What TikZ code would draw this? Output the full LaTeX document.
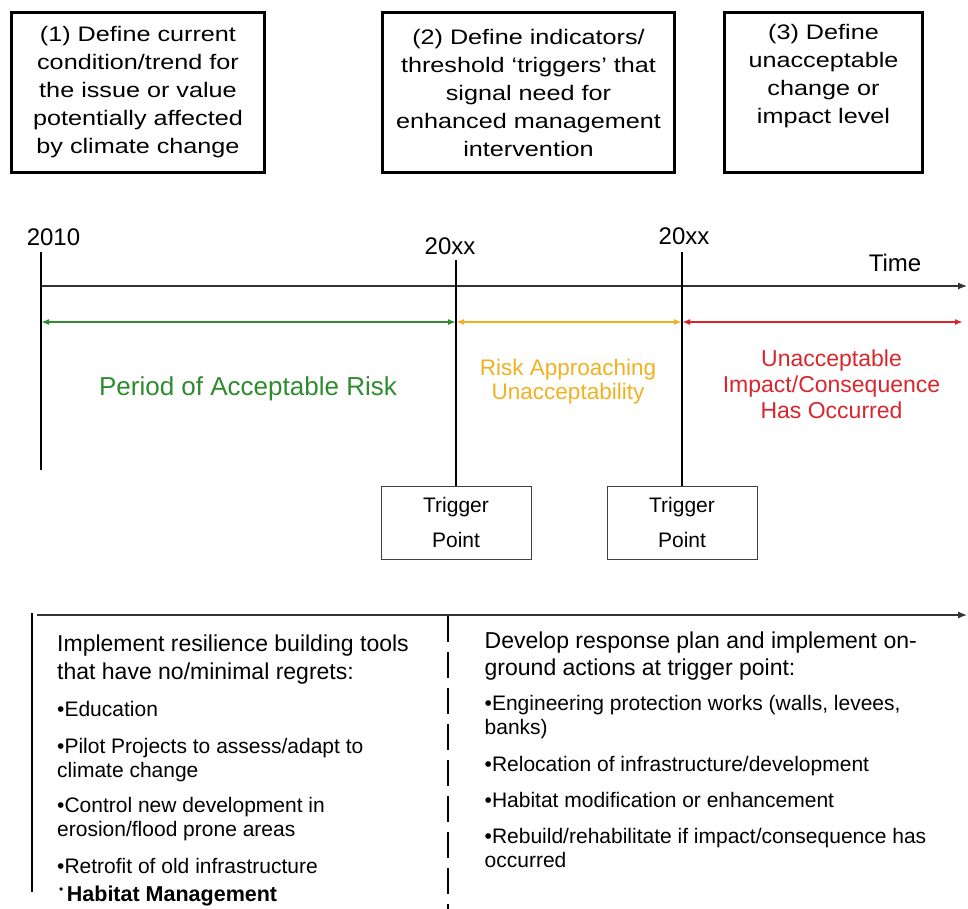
\documentclass[tikz,border=0pt]{standalone}
\usepackage{fontspec}
\setmainfont{Liberation Sans}
\newfontfamily\widesans[FakeStretch=1.2]{Liberation Sans}
\usetikzlibrary{arrows.meta}

\definecolor{acceptgreen}{RGB}{46,139,46}
\definecolor{approachorange}{RGB}{240,176,32}
\definecolor{occurredred}{RGB}{218,37,45}

\begin{document}
\begin{tikzpicture}[
        x=1pt, y=-1pt,
        stepbox/.style={draw, line width=2.8pt, align=center, inner sep=0pt, font=\widesans\fontsize{21}{28}\selectfont},
        trigger/.style={draw=black!75, line width=1pt, align=center, inner sep=0pt, minimum width=150pt, minimum height=73pt, font=\fontsize{21}{35}\selectfont},
        yearlabel/.style={inner sep=0pt, font=\fontsize{24}{28}\selectfont},
        periodlabel/.style={inner sep=0pt, align=center},
        listhead/.style={anchor=north west, inner sep=0pt, align=left, font=\fontsize{23}{27.5}\selectfont},
        listitem/.style={anchor=north west, inner sep=0pt, align=left, font=\fontsize{21}{24}\selectfont},
        axis/.style={-{Latex[length=9pt,width=7pt]}, line width=1.2pt, black!80},
        marker/.style={line width=2.8pt, black},
        span/.style={{Latex[length=8pt,width=6pt]}-{Latex[length=8pt,width=6pt]}, line width=2pt},
        triggerline/.style={line width=2.5pt, black, dash pattern=on 26pt off 10pt}
    ]
        \useasboundingbox (0,0) rectangle (968,908);
        \clip (0,0) rectangle (968,908);

        % Steps (1) to (3)
        \node[stepbox, minimum width=253.2pt, minimum height=160.2pt] (define1) at (138,92.5)
            {(1) Define current\\condition/trend for\\the issue or value\\potentially affected\\by climate change};
        \node[stepbox, minimum width=292.2pt, minimum height=160.2pt] (define2) at (528.5,92.5)
            {(2) Define indicators/\\threshold ‘triggers’ that\\signal need for\\enhanced management\\intervention};
        \node[stepbox, minimum width=198.2pt, minimum height=160.2pt] (define3) at (823.5,92.5)
            {(3) Define\\unacceptable\\change or\\impact level\\\strut};

        % Time axis
        \coordinate (axisStart) at (41,286);
        \coordinate (axisEnd) at (967,286);
        \draw[axis] (axisStart) -- (axisEnd);
        \node[yearlabel] (time) at (895,263) {Time};

        % Years
        \node[yearlabel] (y2010) at (53.5,237) {2010};
        \node[yearlabel] (y20xxA) at (450,246.5) {20xx};
        \node[yearlabel] (y20xxB) at (684,236.5) {20xx};

        % Trigger points
        \node[trigger] (trigA) at (456,522.5) {Trigger\\Point};
        \node[trigger] (trigB) at (682,522.5) {Trigger\\Point};

        % Year markers
        \coordinate (m2010top) at (41,252);
        \coordinate (m2010bot) at (41,470);
        \coordinate (mAtop) at (456,260);
        \coordinate (mBtop) at (682,252);
        \draw[marker] (m2010top) -- (m2010bot);
        \draw[marker] (mAtop) -- (trigA.north);
        \draw[marker] (mBtop) -- (trigB.north);

        % Risk periods
        \coordinate (p0) at (41,322);
        \coordinate (p1) at (456,322);
        \coordinate (p2) at (682,322);
        \coordinate (p3) at (963,322);
        \draw[span, acceptgreen] (p0) -- (p1);
        \draw[span, approachorange] (p1) -- (p2);
        \draw[span, occurredred] (p2) -- (p3);

        \node[periodlabel, text=acceptgreen, font=\fontsize{26}{28}\selectfont] (acceptable) at (248,389)
            {Period of Acceptable Risk};
        \node[periodlabel, text=approachorange, font=\fontsize{22.5}{24.3}\selectfont] (approaching) at (568,382)
            {Risk Approaching\\Unacceptability};
        \node[periodlabel, text=occurredred, font=\fontsize{23}{26}\selectfont] (occurred) at (831.5,384.6)
            {Unacceptable\\Impact/Consequence\\Has Occurred};

        % Actions
        \coordinate (actStart) at (37,615);
        \coordinate (actEnd) at (967,615);
        \draw[axis] (actStart) -- (actEnd);
        \coordinate (nowTop) at (32,613);
        \coordinate (nowBot) at (32,892);
        \draw[marker] (nowTop) -- (nowBot);
        \coordinate (splitTop) at (448,616);
        \coordinate (splitBot) at (448,912);
        \draw[triggerline] (splitTop) -- (splitBot);

        % Before the trigger point
        \node[listhead] (resilience) at (57,634.9) {Implement resilience building tools\\that have no/minimal regrets:};
        \node[listitem] (education) at (57,700.7) {•Education};
        \node[listitem] (pilot) at (57,738) {•Pilot Projects to assess/adapt to\\climate change};
        \node[listitem] (control) at (57,797.4) {•Control new development in\\erosion/flood prone areas};
        \node[listitem] (retrofit) at (57,858) {•Retrofit of old infrastructure};
        \node[listitem, anchor=base west] (habitat) at (59,901.5)
            {{\fontsize{12}{12}\selectfont\raisebox{8pt}{•}}\,\textbf{\fontsize{21.5}{24}\selectfont Habitat Management}};

        % At the trigger point
        \node[listhead] (response) at (484.5,631.5) {Develop response plan and implement on-\\ground actions at trigger point:};
        \node[listitem] (engineering) at (484.5,695.4) {•Engineering protection works (walls, levees,\\banks)};
        \node[listitem] (relocation) at (484.5,756.4) {•Relocation of infrastructure/development};
        \node[listitem] (modification) at (484.5,792) {•Habitat modification or enhancement};
        \node[listitem] (rebuild) at (484.5,828) {•Rebuild/rehabilitate if impact/consequence has\\occurred};
    \end{tikzpicture}
\end{document}
